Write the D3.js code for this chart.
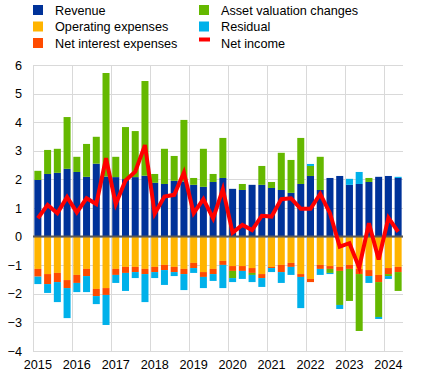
<!DOCTYPE html>
<html><head><meta charset="utf-8">
<script src="https://cdn.jsdelivr.net/npm/d3@7"></script>
<style>body{margin:0;background:#fff}svg{display:block}text{font-family:Arial,"Liberation Sans",sans-serif;fill:#000}</style>
</head><body><svg id="c" width="436" height="378"></svg>
<script>
const years = [2015,2016,2017,2018,2019,2020,2021,2022,2023,2024];
const quarters = [];
years.forEach(y => [1,2,3,4].forEach(q => { if (!(y === 2024 && q > 2)) quarters.push(y + "Q" + q); }));

const revenue = [1.98,2.19,2.23,2.37,2.26,2.09,2.55,2.10,2.08,2.01,2.08,2.13,1.88,1.84,1.95,1.93,1.81,1.74,1.91,2.05,1.67,1.63,1.81,1.81,1.70,1.63,1.53,1.84,2.12,1.63,2.05,2.12,1.81,1.84,1.91,2.09,2.12,2.05];
const operatingExpenses = [-1.13,-1.31,-1.27,-1.52,-1.34,-1.13,-1.83,-1.80,-1.13,-1.06,-1.06,-1.13,-1.06,-0.99,-1.06,-1.13,-0.92,-1.24,-1.13,-0.85,-1.03,-1.03,-1.10,-1.31,-1.06,-0.99,-0.92,-1.31,-1.48,-0.99,-1.03,-1.06,-0.99,-1.13,-1.17,-1.34,-1.10,-1.06];
const netInterestExpenses = [-0.27,-0.35,-0.32,-0.28,-0.28,-0.25,-0.25,-0.24,-0.21,-0.21,-0.18,-0.18,-0.18,-0.18,-0.18,-0.18,-0.18,-0.17,-0.18,-0.14,-0.17,-0.17,-0.17,-0.14,-0.04,-0.25,-0.14,-0.10,-0.11,-0.14,-0.10,-0.14,-0.14,-0.18,-0.21,-0.25,-0.21,-0.18];
const assetValuationChanges = [0.32,0.84,0.84,1.81,0.53,1.15,0.94,3.62,0.71,1.82,1.61,3.31,0.31,1.23,0.87,2.15,0.24,1.33,0.28,1.40,-0.25,0.21,-0.07,0.66,0.21,1.30,1.15,1.61,0.35,1.16,-0.14,-1.19,-1.12,-1.99,0.14,-1.22,-0.07,-0.66];
const residual = [-0.26,-0.31,-0.70,-1.05,-0.32,-0.56,-0.28,-1.05,-0.28,-0.63,-0.21,-0.98,-0.21,-0.52,-0.14,-0.56,-0.17,-0.39,-0.24,-0.81,-0.14,-0.28,-0.25,-0.31,-0.14,-0.38,-0.28,-1.09,0.07,-0.21,-0.04,-0.14,0.21,0.42,-0.24,-0.07,-0.10,0.04];
const netIncome = [0.64,1.11,0.82,1.38,0.85,1.34,1.14,2.74,1.14,1.96,2.27,3.20,0.80,1.40,1.46,2.24,0.82,1.31,0.64,1.66,0.14,0.41,0.23,0.73,0.70,1.31,1.34,0.97,0.97,1.49,0.82,-0.35,-0.23,-1.09,0.47,-0.80,0.66,0.17];
const yTicks = [-4,-3,-2,-1,0,1,2,3,4,5,6];

const seriesNames = ["Revenue","Operating expenses","Net interest expenses","Asset valuation changes","Residual"];
const seriesData = [revenue, operatingExpenses, netInterestExpenses, assetValuationChanges, residual];
const colors = ["#003299","#ffb400","#ff4b00","#65b800","#00b1ea"];
const lineColor = "#ff0000";

const svg = d3.select("#c");
const L = 33, R = 403, T = 65, B = 351;
const x = d3.scaleBand().domain(quarters).range([L, R]).paddingInner(0.28).paddingOuter(0.14);
const y = d3.scaleLinear().domain([-4, 6]).range([B, T]);
const step = x.step();
const slotStart = q => x(q) - step * 0.14;

// gridlines
const g = svg.append("g");
g.selectAll("line.h").data(yTicks).join("line")
  .attr("x1", L).attr("x2", R).attr("y1", d => Math.round(y(d)) + 0.5).attr("y2", d => Math.round(y(d)) + 0.5)
  .attr("stroke", "#d9d9d9").attr("stroke-width", 1);
g.selectAll("line.v").data(years).join("line")
  .attr("x1", d => Math.round(slotStart(d + "Q1")) + 0.5).attr("x2", d => Math.round(slotStart(d + "Q1")) + 0.5)
  .attr("y1", T).attr("y2", B)
  .attr("stroke", "#d9d9d9").attr("stroke-width", 1);

// stacked bars
const table = quarters.map((q, i) => {
  const o = { q };
  seriesNames.forEach((n, k) => o[n] = seriesData[k][i]);
  return o;
});
const stack = d3.stack().keys(seriesNames).offset(d3.stackOffsetDiverging);
const layers = stack(table);
svg.append("g").selectAll("g").data(layers).join("g")
  .attr("fill", (d, i) => colors[i])
  .selectAll("rect").data(d => d).join("rect")
  .attr("x", d => x(d.data.q)).attr("width", x.bandwidth())
  .attr("y", d => y(Math.max(d[0], d[1])))
  .attr("height", d => Math.abs(y(d[0]) - y(d[1])));

// zero line
svg.append("line").attr("x1", L).attr("x2", R).attr("y1", y(0)).attr("y2", y(0))
  .attr("stroke", "#595959").attr("stroke-width", 2);

// net income line
svg.append("path").datum(netIncome)
  .attr("fill", "none").attr("stroke", lineColor).attr("stroke-width", 4).attr("stroke-linejoin", "miter").attr("stroke-miterlimit", 4)
  .attr("d", d3.line().x((d, i) => x(quarters[i]) + x.bandwidth() / 2).y(d => y(d)));

// y axis labels
const yAxis = d3.axisLeft(y).tickValues(yTicks).tickSize(0).tickPadding(11);
const ya = svg.append("g").attr("transform", `translate(${L},0)`).call(yAxis);
ya.select(".domain").remove();
ya.selectAll("text").style("font-size", "12.67px").style("font-family", "Arial, 'Liberation Sans', sans-serif").attr("fill", "#000");

// x axis labels
const xa = svg.append("g").attr("transform", `translate(0,${B})`)
  .call(d3.axisBottom(x).tickValues(years.map(yy => yy + "Q1")).tickFormat(d => d.slice(0, 4)).tickSize(0).tickPadding(9));
xa.select(".domain").remove();
xa.selectAll("text").style("font-size", "12.67px").style("font-family", "Arial, 'Liberation Sans', sans-serif").attr("fill", "#000");

// legend
const legendItems = [
  { name: "Revenue", color: colors[0], col: 0, row: 0, type: "rect" },
  { name: "Operating expenses", color: colors[1], col: 0, row: 1, type: "rect" },
  { name: "Net interest expenses", color: colors[2], col: 0, row: 2, type: "rect" },
  { name: "Asset valuation changes", color: colors[3], col: 1, row: 0, type: "rect" },
  { name: "Residual", color: colors[4], col: 1, row: 1, type: "rect" },
  { name: "Net income", color: lineColor, col: 1, row: 2, type: "line" }
];
const colX = [33, 199], rowY = [5, 21.5, 38];
const lg = svg.append("g");
legendItems.forEach(it => {
  const gx = colX[it.col], gy = rowY[it.row];
  if (it.type === "rect") {
    lg.append("rect").attr("x", gx).attr("y", gy).attr("width", 10).attr("height", 10).attr("fill", it.color);
  } else {
    lg.append("rect").attr("x", gx).attr("y", gy - 0.5).attr("width", 11).attr("height", 4).attr("fill", it.color);
  }
  lg.append("text").attr("x", gx + 22).attr("y", gy + 9.5).style("font-size", "12.67px").text(it.name);
});
</script></body></html>
